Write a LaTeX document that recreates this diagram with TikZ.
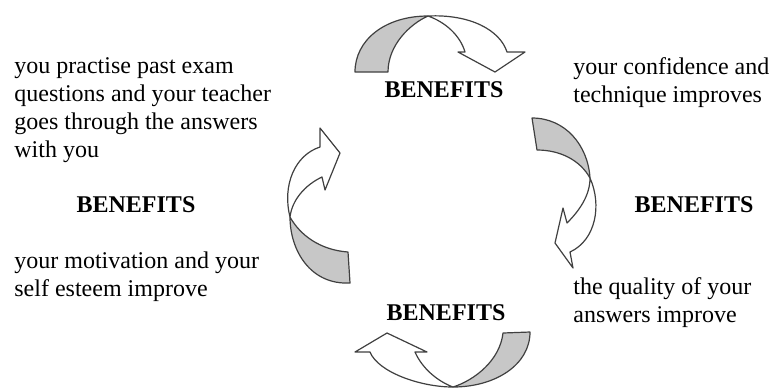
\documentclass[tikz,border=0pt]{standalone}
\usepackage{fontspec}
\setmainfont{Liberation Serif}
\begin{document}
\begin{tikzpicture}[x=0.5pt, y=-0.5pt,
  txt/.style={anchor=base west, inner sep=0pt, align=left, font=\fontsize{12}{14}\selectfont},
  bentxt/.style={inner sep=0pt, font=\fontsize{12}{14}\selectfont\bfseries},
  back/.style={draw=black!75, fill=black!22, line width=0.6pt, line join=round},
  front/.style={draw=black!75, fill=white, line width=0.6pt, line join=round}]

% Fix the page size
\useasboundingbox (0,0) rectangle (770,388);

% Texts round the cycle (base anchor sits on the last line)
\node[txt] (practise) at (14,157) {you practise past exam\\questions and your teacher\\goes through the answers\\with you};
\node[bentxt] (benleft) at (136,205) {BENEFITS};
\node[txt] (motivation) at (14,296) {your motivation and your\\self esteem improve};
\node[bentxt] (bentop) at (444,90) {BENEFITS};
\node[txt] (confidence) at (573,102) {your confidence and\\technique improves};
\node[bentxt] (benright) at (694,205) {BENEFITS};
\node[txt] (quality) at (573,322) {the quality of your\\answers improve};
\node[bentxt] (benbottom) at (446,313) {BENEFITS};

% Top arrow
\draw[front] (428,16) .. controls (470,14) and (500,30) .. (507,52) -- (525,52) -- (495,72) -- (458,52) -- (465,52) .. controls (460,35) and (445,22) .. (428,16) -- cycle;
\draw[back] (355,72) .. controls (355,40) and (385,16) .. (428,16) .. controls (410,24) and (388,45) .. (388,72) -- cycle;

% Right arrow
\draw[front] (590,178) .. controls (602,205) and (596,240) .. (570,252) -- (573,268) -- (555,243) -- (563,208) -- (567,223) .. controls (580,210) and (590,195) .. (590,178) -- cycle;
\draw[back] (532,118) .. controls (565,118) and (588,145) .. (590,178) .. controls (580,160) and (560,150) .. (537,150) -- cycle;

% Bottom arrow
\draw[front] (453,387) .. controls (420,387) and (378,372) .. (370,352) -- (355,352) -- (387,333) -- (427,352) -- (415,352) .. controls (422,368) and (437,381) .. (453,387) -- cycle;
\draw[back] (503,333) -- (530,332) .. controls (530,365) and (495,387) .. (453,387) .. controls (475,380) and (500,360) .. (503,333) -- cycle;

% Left arrow
\draw[front] (290,217) .. controls (282,185) and (295,155) .. (320,147) -- (320,128) -- (340,153) -- (325,190) -- (322,177) .. controls (305,185) and (292,200) .. (290,217) -- cycle;
\draw[back] (348,252) -- (350,283) .. controls (310,285) and (290,250) .. (290,217) .. controls (300,235) and (320,250) .. (348,252) -- cycle;
\end{tikzpicture}
\end{document}
